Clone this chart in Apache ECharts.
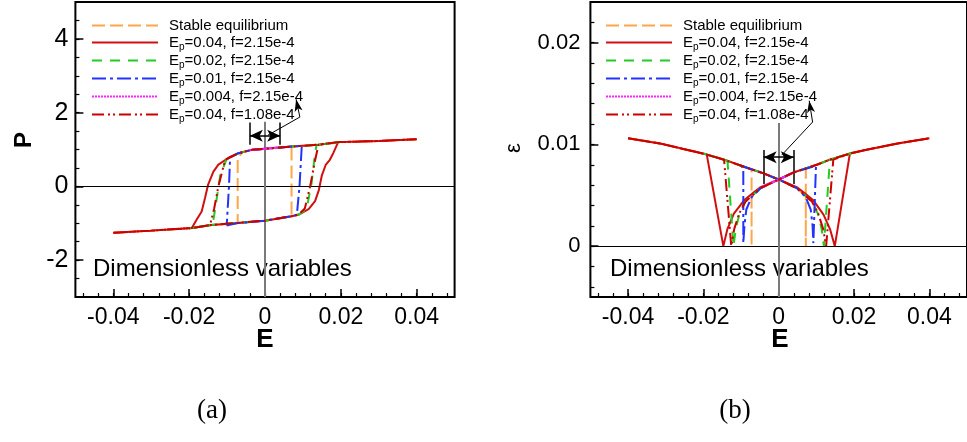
<!DOCTYPE html>
<html>
<head>
<meta charset="utf-8">
<script src="https://cdn.jsdelivr.net/npm/echarts@6.0.0/dist/echarts.min.js"></script>
<style>
html,body{margin:0;padding:0;background:#fff;}
#c{width:967px;height:442px;}
</style>
</head>
<body>
<div id="c"></div>
<script>
// ---------------- data ----------------
const seriesNames = ['Stable equilibrium','Ep=0.04, f=2.15e-4','Ep=0.02, f=2.15e-4','Ep=0.01, f=2.15e-4','Ep=0.004, f=2.15e-4','Ep=0.04, f=1.08e-4'];

const xMajorTicks = [-0.04,-0.02,0,0.02,0.04];
const xMinorTicks = [-0.048,-0.044,-0.04,-0.036,-0.032,-0.028,-0.024,-0.02,-0.016,-0.012,-0.008,-0.004,0,0.004,0.008,0.012,0.016,0.02,0.024,0.028,0.032,0.036,0.04,0.044,0.048];
const pMajorTicks = [-2,0,2,4];
const pMinorTicks = [-2.5,-2,-1.5,-1,-0.5,0,0.5,1,1.5,2,2.5,3,3.5,4,4.5];
const epsMajorTicks = [0,0.01,0.02];
const epsMinorTicks = [-0.004,-0.002,0,0.002,0.004,0.006,0.008,0.01,0.012,0.014,0.016,0.018,0.02,0.022];

// Panel (a): polarization P vs field E
const stableA = [[-0.04,-1.26],[-0.03,-1.2],[-0.0193,-1.13],[-0.0141,-1.05],[-0.007,-0.99],[0,-0.93],[0.006,-0.84],[0.007,-0.77],[0.007,1.08],[0.0141,1.13],[0.0193,1.2],[0.03,1.23],[0.04,1.28],[0.03,1.23],[0.0193,1.2],[0.0141,1.13],[0.007,1.08],[0,1.02],[-0.0035,0.99],[-0.006,0.93],[-0.0072,0.75],[-0.0072,-1.0],[-0.0141,-1.05],[-0.0193,-1.13],[-0.03,-1.2],[-0.04,-1.26]];
const redSolidA = [[-0.04,-1.26],[-0.03,-1.2],[-0.0193,-1.13],[-0.0141,-1.05],[-0.007,-0.99],[0,-0.93],[0.007,-0.81],[0.0088,-0.77],[0.0115,-0.62],[0.0132,-0.4],[0.0142,-0.1],[0.015,0.3],[0.016,0.58],[0.0171,0.72],[0.018,0.9],[0.0193,1.2],[0.03,1.23],[0.04,1.28],[0.03,1.23],[0.0193,1.2],[0.0141,1.13],[0.007,1.08],[0,1.02],[-0.0035,0.99],[-0.007,0.9],[-0.0097,0.77],[-0.0123,0.59],[-0.0136,0.4],[-0.015,0.05],[-0.0158,-0.31],[-0.0167,-0.68],[-0.018,-0.9],[-0.0193,-1.13],[-0.03,-1.2],[-0.04,-1.26]];
const greenA = [[-0.02,-1.14],[-0.0138,-1.04],[-0.007,-0.99],[0,-0.93],[0.007,-0.81],[0.0092,-0.75],[0.011,-0.6],[0.0123,0.1],[0.0132,0.9],[0.0136,1.12],[0.02,1.2],[0.0141,1.13],[0.007,1.08],[0,1.02],[-0.0035,0.99],[-0.007,0.9],[-0.0102,0.72],[-0.0118,0.3],[-0.0127,-0.31],[-0.0138,-1.04],[-0.02,-1.14]];
const blueA = [[-0.0101,-1.06],[-0.007,-0.99],[0,-0.93],[0.007,-0.81],[0.0084,-0.77],[0.0091,0],[0.0097,1.1],[0.01,1.11],[0.007,1.08],[0,1.02],[-0.0035,0.99],[-0.007,0.9],[-0.0092,0.79],[-0.0095,0],[-0.0101,-1.06]];
const magentaA = [[-0.004,0.98],[0,1.02],[0.004,1.06],[0,1.02],[-0.004,0.98]];
const redDdA = [[-0.04,-1.26],[-0.03,-1.2],[-0.0193,-1.13],[-0.0145,-1.05],[-0.007,-0.99],[0,-0.93],[0.007,-0.81],[0.0088,-0.77],[0.0105,-0.6],[0.0119,0],[0.0132,0.7],[0.0141,1.13],[0.0193,1.2],[0.03,1.23],[0.04,1.28],[0.03,1.23],[0.0193,1.2],[0.0141,1.13],[0.007,1.08],[0,1.02],[-0.0035,0.99],[-0.007,0.9],[-0.0105,0.72],[-0.0123,0],[-0.0134,-0.6],[-0.0145,-1.05],[-0.0193,-1.13],[-0.03,-1.2],[-0.04,-1.26]];

// Panel (b): strain eps vs field E
const stableB = [[-0.04,0.0106],[-0.0316,0.0101],[-0.0224,0.0093],[-0.0191,0.009],[-0.0145,0.0085],[-0.0092,0.0078],[-0.004,0.00715],[0,0.00655],[0.0048,0.0057],[0.0072,0.0049],[0.0072,0],[0.0072,0.0076],[0.0101,0.008],[0.0136,0.0085],[0.0189,0.0091],[0.0224,0.0094],[0.0316,0.0101],[0.04,0.0106],[0.0316,0.0101],[0.0224,0.0094],[0.0189,0.0091],[0.0136,0.0085],[0.0101,0.008],[0.004,0.00725],[0,0.00655],[-0.0048,0.0057],[-0.0072,0.0049],[-0.0072,0],[-0.0072,0.0075],[-0.0092,0.0078],[-0.0145,0.0085],[-0.0191,0.009],[-0.0224,0.0093],[-0.0316,0.0101],[-0.04,0.0106]];
const redSolidB = [[-0.04,0.0106],[-0.0316,0.0101],[-0.0224,0.0093],[-0.0191,0.009],[-0.0145,0.0085],[-0.0092,0.0078],[-0.004,0.00715],[0,0.00655],[0.0048,0.0058],[0.0066,0.0053],[0.0092,0.0045],[0.0119,0.0031],[0.0136,0.0017],[0.0149,0],[0.0189,0.0091],[0.0224,0.0094],[0.0316,0.0101],[0.04,0.0106],[0.0316,0.0101],[0.0224,0.0094],[0.0189,0.0091],[0.0136,0.0085],[0.0101,0.008],[0.004,0.00725],[0,0.00655],[-0.0048,0.0058],[-0.0066,0.0053],[-0.0092,0.0045],[-0.0119,0.0032],[-0.0136,0.0017],[-0.0147,0],[-0.0191,0.009],[-0.0224,0.0093],[-0.0316,0.0101],[-0.04,0.0106]];
const greenB = [[-0.02,0.0091],[-0.0145,0.0085],[-0.0092,0.0078],[-0.004,0.00715],[0,0.00655],[0.0048,0.0057],[0.0088,0.0044],[0.0104,0.0032],[0.0114,0.0017],[0.012,0],[0.0136,0.0085],[0.02,0.0092],[0.0136,0.0085],[0.0101,0.008],[0.004,0.00725],[0,0.00655],[-0.0048,0.0057],[-0.0088,0.0044],[-0.0104,0.0032],[-0.0114,0.0017],[-0.012,0],[-0.0136,0.0084],[-0.02,0.0091]];
const blueB = [[-0.01,0.0079],[-0.004,0.00715],[0,0.00655],[0.0048,0.0057],[0.0072,0.0048],[0.0085,0.0036],[0.009,0.002],[0.0092,0.0003],[0.0099,0.0079],[0.01,0.008],[0.004,0.00725],[0,0.00655],[-0.0048,0.0057],[-0.0072,0.0048],[-0.0086,0.0036],[-0.0091,0.002],[-0.0094,0.0003],[-0.0094,0.0076],[-0.01,0.0079]];
const magentaB = [[-0.004,0.0059],[0,0.00655],[0.004,0.00725],[0,0.00655],[-0.004,0.0059]];
const redDdB = [[-0.04,0.0106],[-0.0316,0.0101],[-0.0224,0.0093],[-0.0191,0.009],[-0.0145,0.0085],[-0.0092,0.0078],[-0.004,0.00715],[0,0.00655],[0.0048,0.0057],[0.0088,0.0044],[0.0105,0.0032],[0.0118,0.0017],[0.0126,0],[0.0145,0.0085],[0.0189,0.0091],[0.0224,0.0094],[0.0316,0.0101],[0.04,0.0106],[0.0316,0.0101],[0.0224,0.0094],[0.0189,0.0091],[0.0136,0.0085],[0.0101,0.008],[0.004,0.00725],[0,0.00655],[-0.0048,0.0057],[-0.0088,0.0044],[-0.0105,0.0032],[-0.0118,0.0017],[-0.0126,0],[-0.0145,0.0085],[-0.0191,0.009],[-0.0224,0.0093],[-0.0316,0.0101],[-0.04,0.0106]];

const panelAData = [stableA, redSolidA, greenA, blueA, magentaA, redDdA];
const panelBData = [stableB, redSolidB, greenB, blueB, magentaB, redDdB];

// ---------------- styles ----------------
const FONT = 'Liberation Sans';
const lineStyles = [
  {color:'#FFA54A', width:2, type:[13,5]},
  {color:'#D01010', width:2, type:'solid'},
  {color:'#22CC22', width:2, type:[10,8]},
  {color:'#2233FF', width:2, type:[14,4,3,4]},
  {color:'#FF22FF', width:2, type:[2,1]},
  {color:'#CC0000', width:2, type:[12,4,2,3,2,4]}
];

function legendFormatter(name){
  if (name.indexOf('Ep') === 0) return '{g| }{t|E}{s|p}{t|' + name.slice(2) + '}';
  return '{g| }{t|' + name + '}';
}
const legendRich = {
  g:{width:6, fontSize:15, lineHeight:18},
  t:{fontSize:15, lineHeight:18, fontFamily:FONT, color:'#000'},
  s:{fontSize:10, lineHeight:8, padding:[10,0,0,0], fontFamily:FONT, color:'#000'}
};

function makeXAxes(gi){
  return [
    {type:'value', gridIndex:gi, min:-0.05, max:0.05, position:'bottom',
     axisLine:{show:false, onZero:false}, splitLine:{show:false},
     axisTick:{show:true, inside:true, length:8, customValues:xMajorTicks, lineStyle:{color:'#000', width:1.5}},
     axisLabel:{show:true, customValues:xMajorTicks, margin:9, fontSize:23, color:'#000', fontFamily:FONT, formatter:v=>String(v)}},
    {type:'value', gridIndex:gi, min:-0.05, max:0.05, position:'bottom',
     axisLine:{show:false, onZero:false}, splitLine:{show:false},
     axisTick:{show:true, inside:true, length:4, customValues:xMinorTicks, lineStyle:{color:'#000', width:1.2}},
     axisLabel:{show:false}}
  ];
}
function makeYAxes(gi, min, max, major, minor, fs, margin){
  return [
    {type:'value', gridIndex:gi, min:min, max:max, position:'left',
     axisLine:{show:false, onZero:false}, splitLine:{show:false},
     axisTick:{show:true, inside:true, length:8, customValues:major, lineStyle:{color:'#000', width:1.5}},
     axisLabel:{show:true, customValues:major, margin:margin, fontSize:fs, color:'#000', fontFamily:FONT, formatter:v=>String(v)}},
    {type:'value', gridIndex:gi, min:min, max:max, position:'left',
     axisLine:{show:false, onZero:false}, splitLine:{show:false},
     axisTick:{show:true, inside:true, length:4, customValues:minor, lineStyle:{color:'#000', width:1.2}},
     axisLabel:{show:false}}
  ];
}

const series = [];
function helper(xi, yi, xr, yr, vTop, ann){
  // zero lines (under curves)
  series.push({type:'line', xAxisIndex:xi, yAxisIndex:yi, data:[], z:1, silent:true,
    markLine:{silent:true, animation:false, symbol:'none', label:{show:false},
      data:[
        [{coord:[xr[0],0], lineStyle:{color:'#000', width:1, type:'solid'}},{coord:[xr[1],0], lineStyle:{color:'#000', width:1, type:'solid'}}],
        [{coord:[0,vTop], lineStyle:{color:'#7a7a7a', width:2, type:'solid'}},{coord:[0,yr[0]], lineStyle:{color:'#7a7a7a', width:2, type:'solid'}}]
      ]}});
  // annotation arrows (on top)
  const ls = {color:'#000', width:1, type:'solid'};
  const ls2 = {color:'#000', width:1.5, type:'solid'};
  series.push({type:'line', xAxisIndex:xi, yAxisIndex:yi, data:[], z:10, silent:true,
    markLine:{silent:true, animation:false, symbol:'none', label:{show:false}, lineStyle:ls,
      data:[
        [{coord:[-0.004,ann.barTop], lineStyle:ls2},{coord:[-0.004,ann.barBot], lineStyle:ls2}],
        [{coord:[0.004,ann.barTop], lineStyle:ls2},{coord:[0.004,ann.barBot], lineStyle:ls2}],
        [{coord:[-0.004,ann.arrowY], symbol:'arrow', symbolSize:[9,13], lineStyle:ls2},{coord:[0.004,ann.arrowY], symbol:'arrow', symbolSize:[9,13], lineStyle:ls2}],
        [{coord:ann.p0, lineStyle:ls},{coord:ann.p1, lineStyle:ls}],
        [{coord:ann.p1, lineStyle:ls},{coord:ann.p2, symbol:'arrow', symbolSize:[6,12], lineStyle:ls}]
      ]}});
}
helper(0, 0, [-0.05,0.05], [-3,5], 1.75, {barTop:1.73, barBot:1.13, arrowY:1.37, p0:[0.0008,1.39], p1:[0.0092,1.88], p2:[0.0082,2.36]});
helper(2, 2, [-0.05,0.05], [-0.005,0.024], 0.0121, {barTop:0.00944, barBot:0.0061, arrowY:0.00875, p0:[0.0008,0.00895], p1:[0.009,0.0122], p2:[0.0081,0.0143]});

seriesNames.forEach((n,i)=>{
  series.push({name:n, type:'line', xAxisIndex:0, yAxisIndex:0, data:panelAData[i], symbol:'none', showSymbol:false, z:2+i, lineStyle:lineStyles[i], itemStyle:{color:lineStyles[i].color}, animation:false});
});
seriesNames.forEach((n,i)=>{
  series.push({name:n, type:'line', xAxisIndex:2, yAxisIndex:2, data:panelBData[i], symbol:'none', showSymbol:false, z:2+i, lineStyle:lineStyles[i], itemStyle:{color:lineStyles[i].color}, animation:false});
});

function makeLegend(left){
  return {show:true, orient:'vertical', left:left, top:16.5, padding:0, itemWidth:66, itemHeight:14, itemGap:-2,
    selectedMode:false, data:seriesNames, formatter:legendFormatter,
    itemStyle:{opacity:0},
    textStyle:{fontSize:15, fontFamily:FONT, color:'#000', lineHeight:18, rich:legendRich}};
}

const txt = (o)=>Object.assign({type:'text', silent:true}, o);

const option = {
  animation:false,
  backgroundColor:'#fff',
  grid:[
    {left:75.4, top:2, width:379.2, height:295, show:true, borderColor:'#000', borderWidth:2, backgroundColor:'transparent'},
    {left:590.4, top:2, width:379.2, height:295, show:true, borderColor:'#000', borderWidth:2, backgroundColor:'transparent'}
  ],
  xAxis:[...makeXAxes(0), ...makeXAxes(1)],
  yAxis:[...makeYAxes(0,-3,5,pMajorTicks,pMinorTicks,25,7), ...makeYAxes(1,-0.005,0.024,epsMajorTicks,epsMinorTicks,22,10)],
  legend:[makeLegend(91), makeLegend(605)],
  series:series,
  graphic:[
    txt({style:{x:93, y:269, text:'Dimensionless variables', font:'24px "Liberation Sans"', fill:'#000', textVerticalAlign:'middle'}}),
    txt({style:{x:610, y:269, text:'Dimensionless variables', font:'24px "Liberation Sans"', fill:'#000', textVerticalAlign:'middle'}}),
    txt({x:24, y:140, rotation:Math.PI/2, style:{x:0, y:0, text:'P', font:'bold 24px "Liberation Sans"', fill:'#000', textAlign:'center', textVerticalAlign:'middle'}}),
    txt({x:514, y:148, rotation:Math.PI/2, style:{x:0, y:0, text:'ε', font:'22px "Liberation Sans"', fill:'#000', textAlign:'center', textVerticalAlign:'middle'}}),
    txt({style:{x:265, y:340, text:'E', font:'bold 26px "Liberation Sans"', fill:'#000', textAlign:'center', textVerticalAlign:'middle'}}),
    txt({style:{x:780, y:340, text:'E', font:'bold 26px "Liberation Sans"', fill:'#000', textAlign:'center', textVerticalAlign:'middle'}}),
    txt({style:{x:212, y:411, text:'(a)', font:'27px "Liberation Serif"', fill:'#000', textAlign:'center', textVerticalAlign:'middle'}}),
    txt({style:{x:735, y:411, text:'(b)', font:'27px "Liberation Serif"', fill:'#000', textAlign:'center', textVerticalAlign:'middle'}})
  ]
};

const chart = echarts.init(document.getElementById('c'), null, {renderer:'canvas'});
chart.setOption(option);
</script>
</body>
</html>
